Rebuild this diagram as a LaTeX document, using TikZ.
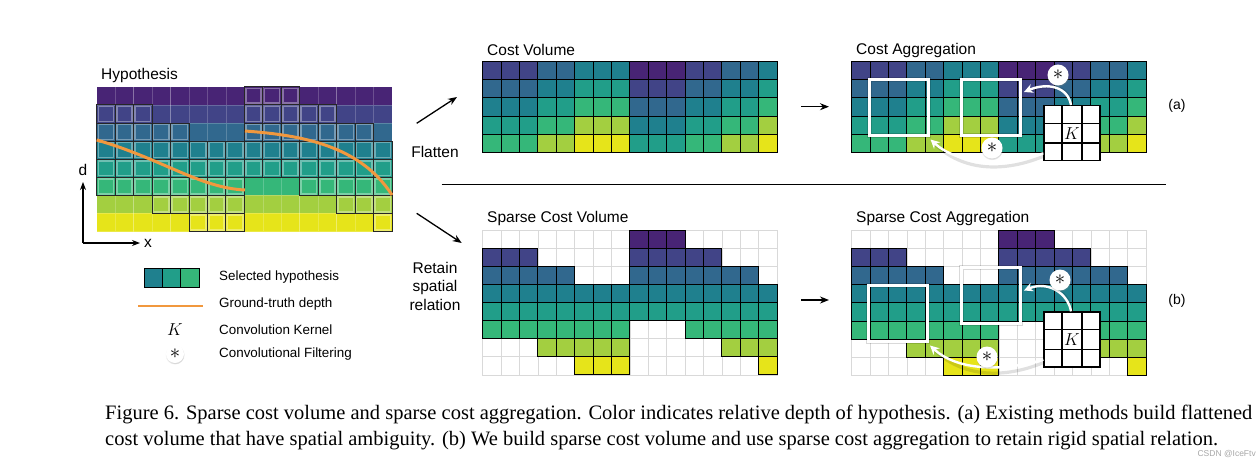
\documentclass[tikz,border=0pt]{standalone}
\usepackage{fontspec}
\setmainfont{Liberation Serif}
\setsansfont{Liberation Sans}
\usetikzlibrary{arrows.meta,shadows}
\definecolor{c0}{RGB}{72,36,117}
\definecolor{c1}{RGB}{65,68,135}
\definecolor{c2}{RGB}{49,104,142}
\definecolor{c3}{RGB}{31,128,142}
\definecolor{c4}{RGB}{33,158,137}
\definecolor{c5}{RGB}{53,183,121}
\definecolor{c6}{RGB}{163,207,64}
\definecolor{c7}{RGB}{230,228,26}
\definecolor{gtorange}{RGB}{241,152,62}
\def\startlist{1,1,1,2,2,3,3,3,0,0,0,1,1,2,2,3}
\newcommand\hypogrid{%
 \foreach \s [count=\c from 0] in \startlist {%
  \foreach \r in {0,...,7} {%
    \fill[c\r] (96.7+\c*18.45,86.7+\r*18.1) rectangle ++(18.45,18.1);
    \draw[white, opacity=0.2, line width=0.5pt] (96.7+\c*18.45,86.7+\r*18.1) rectangle ++(18.45,18.1);
  }}%
 \foreach \s [count=\c from 0] in \startlist {%
  \pgfmathtruncatemacro\e{\s+4}%
  \foreach \r in {\s,...,\e} {%
    \draw[white, opacity=0.35, line width=1.6pt] (96.7+\c*18.45+1.6,86.7+\r*18.1+1.6) rectangle ++(15.25,14.9);
    \draw[black!85, line width=0.8pt] (96.7+\c*18.45,86.7+\r*18.1) rectangle ++(18.45,18.1);
  }}}
\newcommand\flatgrid[2]{%
 \foreach \s [count=\c from 0] in \startlist {%
  \foreach \k in {0,...,4} {%
   \pgfmathtruncatemacro\r{\s+\k}%
   \filldraw[fill=c\r, draw=black, line width=0.9pt] (#1+\c*18.4,#2+\k*18.1) rectangle ++(18.4,18.1);
  }}}
\newcommand\sparsegrid[2]{%
 \foreach \c in {0,...,15}{\foreach \r in {0,...,7}{%
   \draw[gray!30, line width=0.6pt] (#1+\c*18.4,#2+\r*18.1) rectangle ++(18.4,18.1);}}%
 \foreach \s [count=\c from 0] in \startlist {%
  \pgfmathtruncatemacro\e{\s+4}%
  \foreach \r in {\s,...,\e}{%
   \filldraw[fill=c\r, draw=black, line width=0.9pt] (#1+\c*18.4,#2+\r*18.1) rectangle ++(18.4,18.1);}}}
\begin{document}
\begin{tikzpicture}[x=1pt,y=-1pt,
  lbl/.style={font=\sffamily\fontsize{15.5}{18}\selectfont, inner sep=0pt},
  legtxt/.style={font=\sffamily\fontsize{13.4}{15}\selectfont, inner sep=0pt, anchor=west},
  captxt/.style={font=\fontsize{20.5}{24}\selectfont, inner sep=0pt, anchor=west},
  blackarrow/.style={-{Stealth[length=9pt,width=7pt]}, line width=1.3pt, black},
  kernbox/.style={draw=black, fill=white, line width=1.3pt, minimum width=56pt, minimum height=55pt, inner sep=0pt},
  winbox/.style={draw=white, line width=3pt, minimum width=59pt, minimum height=56pt, inner sep=0pt,
     preaction={draw=black, opacity=0.15, line width=5pt}},
  conv/.style={circle, fill=white, minimum size=21pt, inner sep=0pt, font=\fontsize{22}{22}\selectfont,
     circular drop shadow={shadow xshift=0pt, shadow yshift=-0.8pt, shadow scale=1.08, opacity=0.3}},
  kfont/.style={font=\fontsize{17}{17}\selectfont, inner sep=0pt},
  warrow/.style={white, line width=2.4pt, -{Stealth[length=9pt,width=9pt]}},
  wshadow/.style={black, opacity=0.12, line width=3.2pt},
]
\useasboundingbox (0,0) rectangle (1259,466);

% ---------------- Hypothesis ----------------
\node[lbl, anchor=west] (hyplbl) at (101,75) {Hypothesis};
\hypogrid
\draw[gtorange, line width=3pt] (96.7,140) .. controls (160,158) and (200,188) .. (245,190);
\draw[gtorange, line width=3pt] (245,131) .. controls (300,135) and (360,145) .. (392,195);
\coordinate (origin) at (83,243);
\node[lbl, anchor=center] (dlbl) at (83,170) {d};
\node[lbl, anchor=center] (xlbl) at (148,243) {x};
\draw[-{Stealth[length=8pt,width=6pt]}, line width=1.2pt] (origin) -- (dlbl.south |- 0,182);
\draw[-{Stealth[length=8pt,width=6pt]}, line width=1.2pt] (origin) -- (140,243);

% legend
\foreach \r [count=\i from 0] in {3,4,5}
  \filldraw[fill=c\r, draw=black, line width=0.8pt] (144.3+\i*18.23,268) rectangle ++(18.23,19.3);
\node[legtxt] (l1) at (219,277) {Selected hypothesis};
\draw[gtorange, line width=2pt] (138,306) -- (203,306);
\node[legtxt] (l2) at (219,304) {Ground-truth depth};
\node[kfont] (lk) at (175,330) {$K$};
\node[legtxt] (l3) at (219,330) {Convolution Kernel};
\node[conv, minimum size=18pt, font=\fontsize{20}{20}\selectfont] (lc) at (175,354) {$\ast$};
\node[legtxt] (l4) at (219,354) {Convolutional Filtering};

% ---------------- middle arrows ----------------
\coordinate (fa0) at (416.7,123.3);
\coordinate (fa1) at (457,97);
\draw[blackarrow] (fa0) -- (fa1);
\node[lbl, anchor=center] (flat) at (435,152) {Flatten};
\coordinate (ra0) at (416.7,213.3);
\coordinate (ra1) at (461.7,243);
\draw[blackarrow] (ra0) -- (ra1);
\node[lbl, anchor=center, align=center, font=\sffamily\fontsize{15.5}{18.5}\selectfont] (ret) at (435,286) {Retain\\spatial\\relation};

\coordinate (sep0) at (441.7,184);
\coordinate (sep1) at (1166,184);
\draw[line width=1pt] (sep0) -- (sep1);

% ---------------- (a) ----------------
\node[lbl, anchor=west] (cvlbl) at (487,50) {Cost Volume};
\flatgrid{482.7}{61.7}
\node[lbl, anchor=west] (calbl) at (856,50) {Cost Aggregation};
\flatgrid{851.7}{61.7}
\coordinate (ma0) at (801,106.7);
\coordinate (ma1) at (829,106.7);
\draw[blackarrow] (ma0) -- (ma1);
\node[lbl, anchor=center, font=\sffamily\fontsize{14}{15}\selectfont] (alab) at (1177,106) {(a)};

\node[winbox] (bA1) at (898.5,107) {};
\node[winbox] (bA2) at (991,107) {};
\node[kernbox] (kA) at (1072,133.2) {};
\draw[line width=1.3pt] ([xshift=18.67pt]kA.north west) -- ([xshift=18.67pt]kA.south west)
  ([xshift=-18.67pt]kA.north east) -- ([xshift=-18.67pt]kA.south east)
  ([yshift=-18.33pt]kA.north west) -- ([yshift=-18.33pt]kA.north east)
  ([yshift=18.33pt]kA.south west) -- ([yshift=18.33pt]kA.south east);
\node[kfont] (kAK) at (kA.center) {$K$};
\draw[wshadow] ([xshift=-1pt]kA.north) .. controls +(-1,-18) and +(24,-10) .. ([xshift=5pt,yshift=15pt]bA2.east);
\draw[warrow] ([xshift=-1pt]kA.north) .. controls +(-3,-18) and +(24,-10) .. ([xshift=2pt,yshift=15pt]bA2.east);
\draw[wshadow] ([yshift=5pt]kA.south west) .. controls +(-44,18) and +(26,28) .. ([xshift=3pt,yshift=-5pt]bA1.south east);
\draw[warrow] ([yshift=8pt]kA.south west) .. controls +(-44,13) and +(26,24) .. ([xshift=1pt,yshift=-3pt]bA1.south east);
\node[conv] (cA1) at (1058,75) {$\ast$};
\node[conv] (cA2) at (992,148) {$\ast$};

% ---------------- (b) ----------------
\node[lbl, anchor=west] (svlbl) at (487,218) {Sparse Cost Volume};
\sparsegrid{482.7}{230}
\node[lbl, anchor=west] (salbl) at (856,218) {Sparse Cost Aggregation};
\sparsegrid{851.7}{230.5}
\coordinate (mb0) at (801,300);
\coordinate (mb1) at (829,300);
\draw[blackarrow] (mb0) -- (mb1);
\node[lbl, anchor=center, font=\sffamily\fontsize{14}{15}\selectfont] (blab) at (1177,301) {(b)};

\node[winbox] (bB1) at (898,313) {};
\node[winbox] (bB2) at (991,295.5) {};
\node[kernbox] (kB) at (1072,339.5) {};
\draw[line width=1.3pt] ([xshift=18.67pt]kB.north west) -- ([xshift=18.67pt]kB.south west)
  ([xshift=-18.67pt]kB.north east) -- ([xshift=-18.67pt]kB.south east)
  ([yshift=-18.33pt]kB.north west) -- ([yshift=-18.33pt]kB.north east)
  ([yshift=18.33pt]kB.south west) -- ([yshift=18.33pt]kB.south east);
\node[kfont] (kBK) at (kB.center) {$K$};
\draw[wshadow] ([xshift=-1pt]kB.north) .. controls +(-1,-18) and +(24,-10) .. ([xshift=5pt,yshift=5pt]bB2.east);
\draw[warrow] ([xshift=-1pt]kB.north) .. controls +(-3,-18) and +(24,-10) .. ([xshift=2pt,yshift=5pt]bB2.east);
\draw[wshadow] ([yshift=5pt]kB.south west) .. controls +(-44,18) and +(26,28) .. ([xshift=3pt,yshift=-5pt]bB1.south east);
\draw[warrow] ([yshift=8pt]kB.south west) .. controls +(-44,13) and +(26,24) .. ([xshift=1pt,yshift=-3pt]bB1.south east);
\node[conv] (cB1) at (1060,280) {$\ast$};
\node[conv] (cB2) at (987,357) {$\ast$};

% ---------------- caption ----------------
\node[captxt] (cap1) at (105,414) {Figure 6. Sparse cost volume and sparse cost aggregation. Color indicates relative depth of hypothesis. (a) Existing methods build flattened};
\node[captxt] (cap2) at (105,441) {cost volume that have spatial ambiguity. (b) We build sparse cost volume and use sparse cost aggregation to retain rigid spatial relation.};
\node[font=\sffamily\fontsize{8.5}{9}\selectfont, text=gray!70, inner sep=0pt, anchor=east] (wm) at (1256,454) {CSDN @IceFtv};
\end{tikzpicture}
\end{document}
